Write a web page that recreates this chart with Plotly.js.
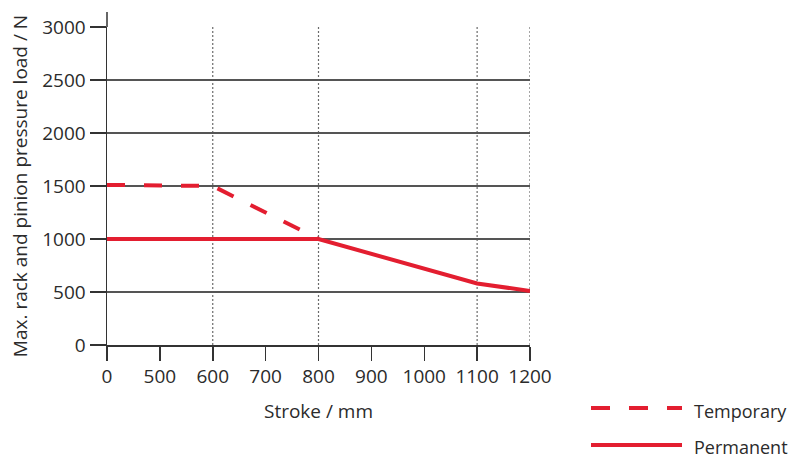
<!DOCTYPE html>
<html>
<head>
<meta charset="utf-8">
<script src="https://cdn.plot.ly/plotly-3.0.1.min.js"></script>
<style>html,body{margin:0;padding:0;background:#fff;}#chart{width:791px;height:458px;}</style>
</head>
<body>
<div id="chart"></div>
<script>
// Category tick labels of the (non-linear) stroke axis
const strokeTicks = ["0", "500", "600", "700", "800", "900", "1000", "1100", "1200"];
// Strokes with dotted vertical grid lines
const gridStrokes = ["600", "800", "1100", "1200"];
// Temporary load series
const tempStroke = ["0", "600", "800"];
const tempLoad = [1510, 1500, 1000];
// Permanent load series
const permStroke = ["0", "800", "1100", "1200"];
const permLoad = [1000, 1000, 580, 510];
// Y ticks
const loadTicks = [0, 500, 1000, 1500, 2000, 2500, 3000];
const seriesNames = ["Temporary", "Permanent"];

const red = "#e31e30";
const txt = "#2b2b2b";
const font = "Open Sans, Noto Sans, sans-serif";
const fs = 19;

const traces = [
  {x: tempStroke, y: tempLoad, name: seriesNames[0], type: "scatter", mode: "lines",
   line: {color: red, width: 4, dash: "18px,19px"}, showlegend: false},
  {x: permStroke, y: permLoad, name: seriesNames[1], type: "scatter", mode: "lines",
   line: {color: red, width: 4}, showlegend: false}
];

const shapes = gridStrokes.map(s => {
  const i = strokeTicks.indexOf(s);
  return {
    type: "line", xref: "x", yref: "y", x0: i, x1: i, y0: 0, y1: loadTicks[loadTicks.length - 1],
    line: {color: "#6a6a6a", width: 1.2, dash: "2px,2px"}, layer: "below"
  };
});
// y-axis line extension above top
shapes.push({type: "line", xref: "paper", yref: "paper", x0: 0, x1: 0, y0: 1, y1: 1 + 15 / 318,
  line: {color: "#333", width: 1.5}});
// legend samples
shapes.push({type: "line", xref: "paper", yref: "paper", x0: (591 - 107) / 423, x1: (682 - 107) / 423,
  y0: (345 - 408) / 318, y1: (345 - 408) / 318, line: {color: red, width: 4, dash: "19px,19px"}});
shapes.push({type: "line", xref: "paper", yref: "paper", x0: (591 - 107) / 423, x1: (682 - 107) / 423,
  y0: (345 - 445) / 318, y1: (345 - 445) / 318, line: {color: red, width: 4}});

const annotations = [
  {text: seriesNames[0], xref: "paper", yref: "paper", x: (692 - 107) / 423, y: (345 - 411) / 318,
   xanchor: "left", yanchor: "middle", showarrow: false, font: {family: font, size: 18, color: txt}},
  {text: seriesNames[1], xref: "paper", yref: "paper", x: (692 - 107) / 423, y: (345 - 447) / 318,
   xanchor: "left", yanchor: "middle", showarrow: false, font: {family: font, size: 18, color: txt}}
];

const layout = {
  width: 791, height: 458,
  margin: {l: 107, r: 261, t: 27, b: 113},
  paper_bgcolor: "#fff", plot_bgcolor: "#fff",
  font: {family: font, size: fs, color: txt},
  showlegend: false,
  xaxis: {
    type: "category", categoryorder: "array", categoryarray: strokeTicks,
    range: [0, strokeTicks.length - 1],
    tickvals: strokeTicks, ticktext: strokeTicks,
    showgrid: false, zeroline: false,
    showline: true, linecolor: "#333", linewidth: 1.5,
    ticks: "outside", ticklen: 14, tickwidth: 1.5, tickcolor: "#333",
    tickfont: {family: font, size: fs, color: txt},
    title: {text: "Stroke / mm", font: {family: font, size: fs, color: txt}, standoff: 16}
  },
  yaxis: {
    range: [0, 3000], tickvals: loadTicks,
    showgrid: true, gridcolor: "#555", gridwidth: 1.5,
    zeroline: false,
    showline: true, linecolor: "#333", linewidth: 1.5,
    ticks: "outside", ticklen: 16, tickwidth: 1.5, tickcolor: "#333",
    tickfont: {family: font, size: fs, color: txt},
    title: {text: "Max. rack and pinion pressure load / N", font: {family: font, size: fs, color: txt}, standoff: 9}
  },
  shapes: shapes,
  annotations: annotations
};

Plotly.newPlot("chart", traces, layout, {displayModeBar: false, staticPlot: true});
</script>
</body>
</html>
